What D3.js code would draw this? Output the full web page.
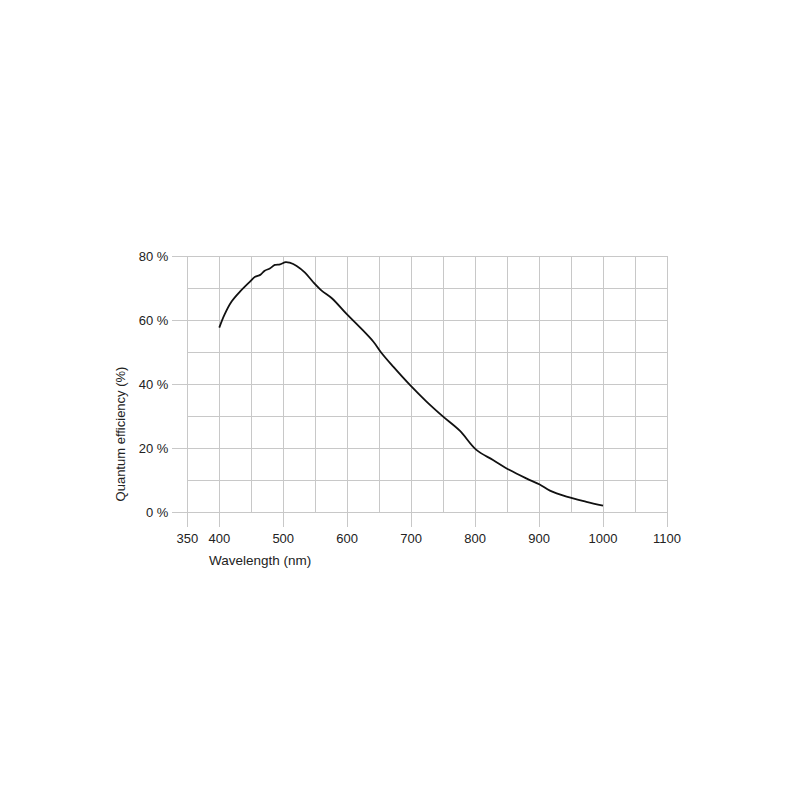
<!DOCTYPE html>
<html><head><meta charset="utf-8">
<script src="https://cdn.jsdelivr.net/npm/d3@7"></script>
<style>body{margin:0;background:#fff;} text{font-family:"Liberation Sans",Arial,sans-serif;}</style>
</head><body>
<svg id="chart" width="800" height="800"></svg>
<script>
const wavelengths = [400,408,419,432,448,456,464,471,479,487,495,504,510,521,534,547,560,576,599,620,641,654,672,698,724,750,776,802,828,854,880,901,917,943,974,1000];
const efficiency  = [57.6,61.6,65.7,68.8,72.0,73.5,74.1,75.4,76.1,77.2,77.4,78.1,77.9,76.9,74.8,71.8,69.2,66.8,61.9,57.7,53.2,49.6,45.4,39.7,34.5,29.8,25.4,19.4,16.25,13.1,10.5,8.6,6.67,4.8,3.2,2.0];
const xTicks = [350,400,500,600,700,800,900,1000,1100];
const xGrid = [350,400,450,500,550,600,650,700,750,800,850,900,950,1000,1050,1100];
const yTicks = [0,20,40,60,80];
const yGrid = [0,10,20,30,40,50,60,70,80];
const xLabel = "Wavelength (nm)";
const yLabel = "Quantum efficiency (%)";

const svg = d3.select("#chart");
const x = d3.scaleLinear().domain([350,1100]).range([187.3,667]);
const y = d3.scaleLinear().domain([0,80]).range([512,256]);
const tickLen = 15;
const gridColor = "#c8c8c8";

const g = svg.append("g");
g.selectAll(".vg").data(xGrid).join("line")
  .attr("x1", d=>x(d)).attr("x2", d=>x(d))
  .attr("y1", y(80)).attr("y2", d=> xTicks.includes(d) ? y(0)+tickLen : y(0))
  .attr("stroke", gridColor).attr("stroke-width",1).attr("shape-rendering","crispEdges");
g.selectAll(".hg").data(yGrid).join("line")
  .attr("y1", d=>y(d)).attr("y2", d=>y(d))
  .attr("x1", d=> yTicks.includes(d) ? x(350)-tickLen : x(350)).attr("x2", x(1100))
  .attr("stroke", gridColor).attr("stroke-width",1).attr("shape-rendering","crispEdges");

g.selectAll(".xl").data(xTicks).join("text")
  .attr("x", d=>x(d)).attr("y", y(0)+31)
  .attr("text-anchor","middle").attr("font-size","13px").attr("fill","#222")
  .text(d=>d);
g.selectAll(".yl").data(yTicks).join("text")
  .attr("x", x(350)-19).attr("y", d=>y(d)+5)
  .attr("text-anchor","end").attr("font-size","13px").attr("fill","#222")
  .text(d=>d+" %");

g.append("text").attr("x", 209).attr("y", 565)
  .attr("font-size","13.5px").attr("fill","#222").text(xLabel);
g.append("text").attr("transform", `translate(125,434) rotate(-90)`)
  .attr("text-anchor","middle").attr("font-size","13px").attr("fill","#222").text(yLabel);

const line = d3.line().x((d,i)=>x(wavelengths[i])).y(d=>y(d)).curve(d3.curveCatmullRom.alpha(0.5));
g.append("path").datum(efficiency).attr("d", line)
  .attr("fill","none").attr("stroke","#111").attr("stroke-width",1.8).attr("stroke-linejoin","round");
</script>
</body></html>
